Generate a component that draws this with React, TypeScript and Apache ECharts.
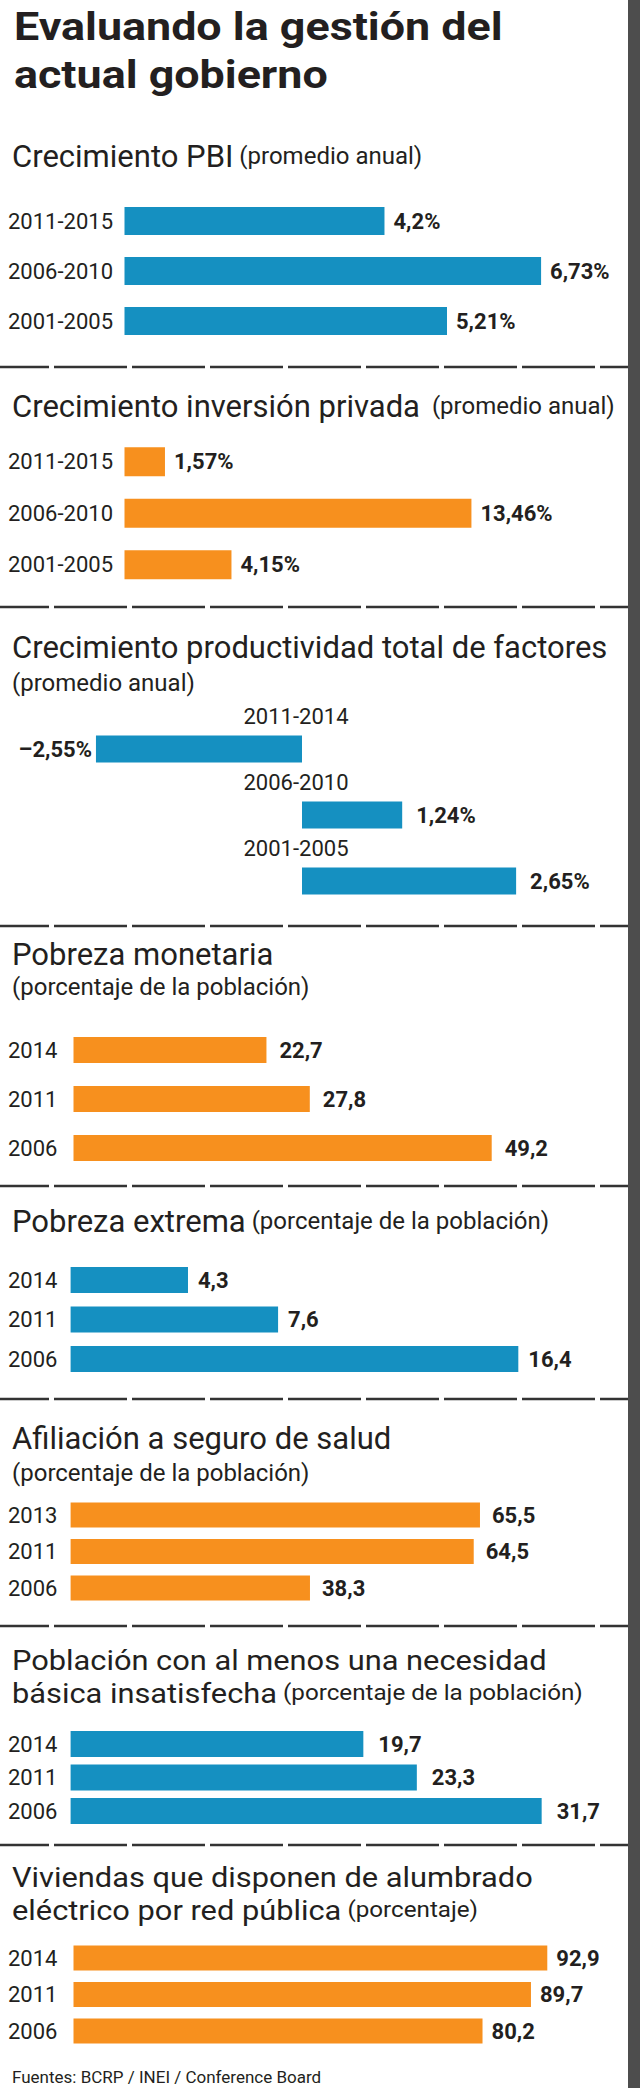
import React, { useEffect, useRef } from "react";
import * as echarts from "echarts";

const FONT = "Roboto, 'Noto Sans', 'DejaVu Sans', sans-serif";
const TEXT = "#231f20";
const BLUE = "#1590c1";
const ORANGE = "#f7901e";

// ---- data ----
const periodCats = ["2011-2015", "2006-2010", "2001-2005"];
const pbiValues = [4.2, 6.73, 5.21];
const inversionValues = [1.57, 13.46, 4.15];
const tfpCats = ["2011-2014", "2006-2010", "2001-2005"];
const tfpValues = [-2.55, 1.24, 2.65];
const monetariaCats = ["2014", "2011", "2006"];
const monetariaValues = [22.7, 27.8, 49.2];
const extremaCats = ["2014", "2011", "2006"];
const extremaValues = [4.3, 7.6, 16.4];
const saludCats = ["2013", "2011", "2006"];
const saludValues = [65.5, 64.5, 38.3];
const nbiCats = ["2014", "2011", "2006"];
const nbiValues = [19.7, 23.3, 31.7];
const electricCats = ["2014", "2011", "2006"];
const electricValues = [92.9, 89.7, 80.2];

const mainTitle = ["Evaluando la gestión del", "actual gobierno"];
const sourceText = "Fuentes: BCRP / INEI / Conference Board";

// ---- layout ----
type Panel = {
  cats: string[];
  values: number[];
  color: string;
  unit: string;
  left: number;
  top: number;
  height: number;
  width: number;
  min: number;
  max: number;
  barWidth: number;
  dist: number;
  labelAboveX?: number;
};

const panels: Panel[] = [
  { cats: periodCats, values: pbiValues, color: BLUE, unit: "%", left: 124.5, top: 196, height: 150, width: 495.2, min: 0, max: 8, barWidth: 28, dist: 9 },
  { cats: periodCats, values: inversionValues, color: ORANGE, unit: "%", left: 124.5, top: 436, height: 154.5, width: 516, min: 0, max: 20, barWidth: 29, dist: 9 },
  { cats: tfpCats, values: tfpValues, color: BLUE, unit: "%", left: 59.6, top: 716, height: 198, width: 565.6, min: -3, max: 4, barWidth: 27, dist: 14, labelAboveX: 296 },
  { cats: monetariaCats, values: monetariaValues, color: ORANGE, unit: "", left: 73.5, top: 1025.5, height: 147, width: 510, min: 0, max: 60, barWidth: 26, dist: 13 },
  { cats: extremaCats, values: extremaValues, color: BLUE, unit: "", left: 70.6, top: 1260.25, height: 118.5, width: 546, min: 0, max: 20, barWidth: 26, dist: 10 },
  { cats: saludCats, values: saludValues, color: ORANGE, unit: "", left: 70.6, top: 1496.75, height: 109.5, width: 500, min: 0, max: 80, barWidth: 25, dist: 12 },
  { cats: nbiCats, values: nbiValues, color: BLUE, unit: "", left: 70.6, top: 1727.25, height: 100.5, width: 520.1, min: 0, max: 35, barWidth: 26, dist: 15 },
  { cats: electricCats, values: electricValues, color: ORANGE, unit: "", left: 73.5, top: 1939.75, height: 109.5, width: 510, min: 0, max: 100, barWidth: 25, dist: 9 },
];

const separators = [367, 607, 926, 1186, 1399, 1626, 1845];

const fmt = (v: number, unit: string) =>
  (v < 0 ? "–" : "") + String(Math.abs(v)).replace(".", ",") + unit;

const richTitle = {
  a: { fontSize: 31, fontFamily: FONT, fill: TEXT, lineHeight: 31 },
  b: { fontSize: 24, fontFamily: FONT, fill: TEXT, lineHeight: 31 },
};

const richTwoLine = {
  a: { fontSize: 28, fontFamily: FONT, fill: TEXT, lineHeight: 33 },
  b: { fontSize: 22, fontFamily: FONT, fill: TEXT, lineHeight: 33 },
};

function txt(text: string, x: number, y: number, size: number, opts: any = {}) {
  return {
    type: "text",
    x,
    y,
    scaleX: opts.scaleX ?? 1,
    z: 10,
    style: {
      text,
      fill: TEXT,
      font: `${opts.weight ?? "normal"} ${size}px ${FONT}`,
      lineHeight: opts.lineHeight,
      align: "left",
      verticalAlign: "middle",
      textAlign: "left",
      textVerticalAlign: "middle",
      rich: opts.rich,
    },
  };
}

function buildOption() {
  const grid = panels.map((p) => ({ left: p.left, top: p.top, width: p.width, height: p.height }));
  const xAxis = panels.map((p, i) => ({
    type: "value",
    gridIndex: i,
    min: p.min,
    max: p.max,
    show: false,
  }));
  const yAxis = panels.map((p, i) => ({
    type: "category",
    gridIndex: i,
    data: p.cats,
    inverse: true,
    axisLine: { show: false, onZero: false },
    axisTick: { show: false },
    splitLine: { show: false },
    axisLabel: p.labelAboveX !== undefined
      ? {
          interval: 0,
          margin: p.left - p.labelAboveX,
          align: "center",
          verticalAlign: "middle",
          lineHeight: 22,
          formatter: (v: string) => v + "\n \n \n ",
          fontSize: 22,
          fontFamily: FONT,
          color: TEXT,
        }
      : {
          interval: 0,
          margin: p.left - 8,
          align: "left",
          fontSize: 22,
          fontFamily: FONT,
          color: TEXT,
        },
  }));
  const series = panels.map((p, i) => ({
    type: "bar",
    xAxisIndex: i,
    yAxisIndex: i,
    barWidth: p.barWidth,
    silent: true,
    itemStyle: { color: p.color },
    data: p.values.map((v) =>
      v < 0 ? { value: v, label: { position: "left", distance: 4 } } : v
    ),
    label: {
      show: true,
      position: "right",
      distance: p.dist,
      formatter: (prm: any) => fmt(prm.value, p.unit),
      fontFamily: FONT,
      fontWeight: "bold",
      fontSize: 22,
      color: TEXT,
    },
  }));

  const graphic: any[] = [];
  separators.forEach((y) =>
    graphic.push({
      type: "line",
      z: 5,
      shape: { x1: 0, y1: y, x2: 628, y2: y },
      style: { stroke: "#333333", lineWidth: 2.6, lineDash: [73, 5], lineDashOffset: 24 },
    })
  );
  graphic.push(txt(mainTitle.join("\n"), 14, 50.5, 39, { weight: "bold", scaleX: 1.15, lineHeight: 48 }));

  graphic.push(txt("{a|Crecimiento PBI} {b|(promedio anual)}", 12, 156, 24, { rich: richTitle }));
  graphic.push(txt("{a|Crecimiento inversión privada}  {b|(promedio anual)}", 12, 406, 24, { rich: richTitle }));
  graphic.push(txt("Crecimiento productividad total de factores", 12, 647.5, 31));
  graphic.push(txt("(promedio anual)", 12, 683, 24));
  graphic.push(txt("Pobreza monetaria", 12, 954, 31));
  graphic.push(txt("(porcentaje de la población)", 12, 987, 24));
  graphic.push(txt("{a|Pobreza extrema} {b|(porcentaje de la población)}", 12, 1221, 24, { rich: richTitle }));
  graphic.push(txt("Afiliación a seguro de salud", 12, 1438, 31));
  graphic.push(txt("(porcentaje de la población)", 12, 1473, 24));
  graphic.push(
    txt(
      "{a|Población con al menos una necesidad}\n{a|básica insatisfecha} {b|(porcentaje de la población)}",
      12, 1676.5, 22, { rich: richTwoLine, scaleX: 1.1 }
    )
  );
  graphic.push(
    txt(
      "{a|Viviendas que disponen de alumbrado}\n{a|eléctrico por red pública} {b|(porcentaje)}",
      12, 1893.5, 22, { rich: richTwoLine, scaleX: 1.1 }
    )
  );
  graphic.push(txt(sourceText, 12, 2077, 17));

  graphic.push({
    type: "rect",
    z: 100,
    shape: { x: 628, y: 0, width: 12, height: 2088 },
    style: { fill: "#4d4d4d" },
  });

  return {
    animation: false,
    backgroundColor: "#ffffff",
    grid,
    xAxis,
    yAxis,
    series,
    graphic,
  };
}

export default function App() {
  const ref = useRef<HTMLDivElement>(null);
  useEffect(() => {
    if (!ref.current) return;
    document.body.style.margin = "0";
    const chart = echarts.init(ref.current, null, { renderer: "svg", width: 640, height: 2088 });
    chart.setOption(buildOption() as any);
    return () => chart.dispose();
  }, []);
  return (
    <div
      ref={ref}
      style={{ position: "absolute", left: 0, top: 0, width: 640, height: 2088, background: "#fff" }}
    />
  );
}
